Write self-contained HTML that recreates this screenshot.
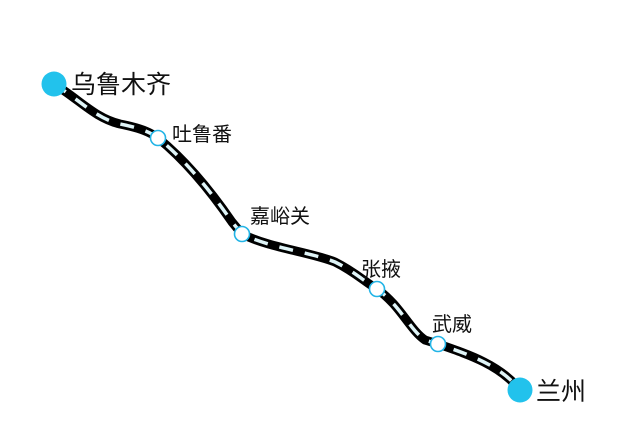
<!DOCTYPE html>
<html><head><meta charset="utf-8"><style>body{margin:0;background:#fff}svg{display:block}text{font-family:"Liberation Sans","Noto Sans CJK SC",sans-serif;fill:#111}</style></head>
<body><svg width="639" height="445" viewBox="0 0 639 445">
<path d="M54,84 C80,100 95,118 120,124 C140,128 150,132 158,138 C185,160 210,190 232,222 L242,234 C270,248 310,252 335,262 C355,272 365,282 377,289 C400,305 410,330 425,340 L438,344 C470,355 500,365 520,390" fill="none" stroke="#000" stroke-width="9" stroke-linecap="round"/>
<path d="M54,84 C80,100 95,118 120,124 C140,128 150,132 158,138 C185,160 210,190 232,222 L242,234 C270,248 310,252 335,262 C355,272 365,282 377,289 C400,305 410,330 425,340 L438,344 C470,355 500,365 520,390" fill="none" stroke="#dff4f7" stroke-width="3.5" stroke-dasharray="14 12"/>
<circle cx="54" cy="84" r="12.5" fill="#22c2ec"/>
<circle cx="520" cy="390" r="12.5" fill="#22c2ec"/>
<g fill="#fff" stroke="#22b4e6" stroke-width="1.6">
<circle cx="158" cy="138" r="7.5"/><circle cx="242" cy="234" r="7.5"/><circle cx="377" cy="289" r="7.5"/><circle cx="438" cy="344" r="7.5"/></g>
<text x="71" y="93" font-size="25">乌鲁木齐</text>
<text x="172" y="141" font-size="20">吐鲁番</text>
<text x="250" y="223" font-size="20">嘉峪关</text>
<text x="361" y="276" font-size="20">张掖</text>
<text x="432" y="331" font-size="20">武威</text>
<text x="536" y="400" font-size="25">兰州</text>
</svg></body></html>
